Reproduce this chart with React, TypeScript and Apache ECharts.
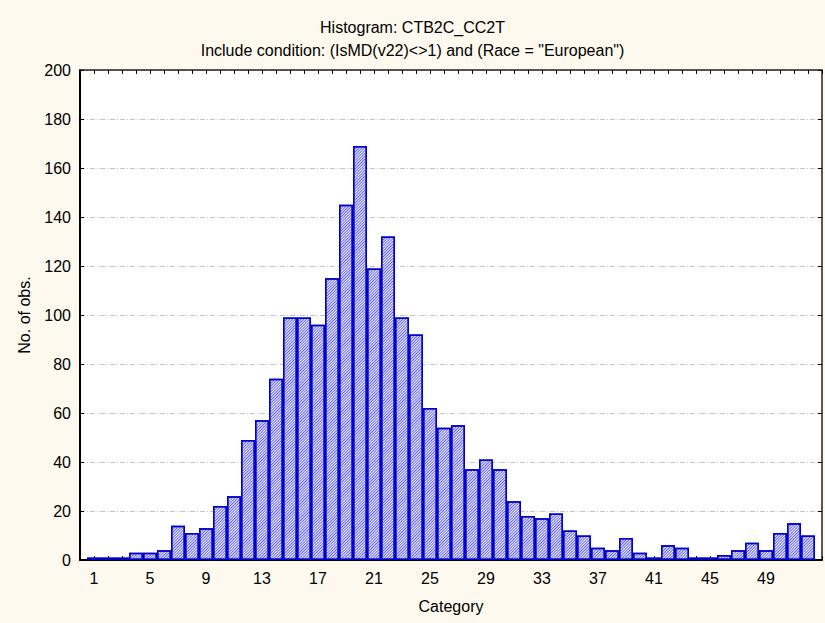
import React, { useEffect, useRef } from "react";
import * as echarts from "echarts";

const categories: number[] = [
  1, 2, 3, 4, 5, 6, 7, 8, 9, 10, 11, 12, 13, 14, 15, 16, 17, 18, 19, 20, 21, 22, 23, 24, 25, 26,
  27, 28, 29, 30, 31, 32, 33, 34, 35, 36, 37, 38, 39, 40, 41, 42, 43, 44, 45, 46, 47, 48, 49, 50, 51, 52,
];
const counts: number[] = [
  1, 1, 1, 3, 3, 4, 14, 11, 13, 22, 26, 49, 57, 74, 99, 99, 96, 115, 145, 169, 119, 132, 99, 92, 62, 54,
  55, 37, 41, 37, 24, 18, 17, 19, 12, 10, 5, 4, 9, 3, 1, 6, 5, 1, 1, 2, 4, 7, 4, 11, 15, 10,
];
const xLabelValues: number[] = [1, 5, 9, 13, 17, 21, 25, 29, 33, 37, 41, 45, 49];
const titleText = "Histogram: CTB2C_CC2T";
const subtitleText = 'Include condition: (IsMD(v22)<>1) and (Race = "European")';
const xName = "Category";
const yName = "No. of obs.";

const FONT = "'Liberation Sans', Arial, Helvetica, sans-serif";

export default function App() {
  const ref = useRef<HTMLDivElement>(null);
  useEffect(() => {
    if (!ref.current) return;
    const chart = echarts.init(ref.current, null, { renderer: "svg" });
    const data = categories.map((c, i) => [c, counts[i]]);
    chart.setOption({
      animation: false,
      backgroundColor: "#fdf9ee",
      textStyle: { fontFamily: FONT },
      title: {
        text: titleText,
        subtext: subtitleText,
        left: "center",
        top: 14,
        itemGap: 7,
        textStyle: { fontFamily: FONT, fontSize: 16, fontWeight: "normal", color: "#000" },
        subtextStyle: { fontFamily: FONT, fontSize: 16, color: "#000" },
      },
      grid: {
        left: 80,
        right: 3,
        top: 70,
        bottom: 63,
        show: true,
        backgroundColor: "#ffffff",
        borderWidth: 0,
      },
      xAxis: [
        {
          type: "value",
          min: 0,
          max: 53,
          interval: 1,
          name: xName,
          nameLocation: "middle",
          nameGap: 38,
          nameTextStyle: { fontFamily: FONT, fontSize: 16, color: "#000" },
          axisLine: { show: true, onZero: false, lineStyle: { color: "#000", width: 2 } },
          axisTick: { show: true, inside: true, length: 4, lineStyle: { color: "#000", width: 1 } },
          axisLabel: {
            fontFamily: FONT,
            fontSize: 16,
            color: "#000",
            margin: 10,
            formatter: (v: number) => (xLabelValues.indexOf(v) >= 0 ? String(v) : ""),
          },
          splitLine: { show: false },
        },
        {
          type: "value",
          position: "top",
          min: 0,
          max: 53,
          interval: 1,
          axisLine: { show: true, onZero: false, lineStyle: { color: "#222", width: 1.5 } },
          axisTick: { show: true, inside: true, length: 4, lineStyle: { color: "#000", width: 1 } },
          axisLabel: { show: false },
          splitLine: { show: false },
        },
      ],
      yAxis: [
        {
          type: "value",
          min: 0,
          max: 200,
          interval: 20,
          name: yName,
          nameLocation: "middle",
          nameGap: 48,
          nameRotate: 90,
          nameTextStyle: { fontFamily: FONT, fontSize: 16, color: "#000" },
          axisLine: { show: true, onZero: false, lineStyle: { color: "#000", width: 2 } },
          axisTick: { show: true, inside: true, length: 4, lineStyle: { color: "#000", width: 1 } },
          axisLabel: { fontFamily: FONT, fontSize: 16, color: "#000", margin: 9 },
          splitLine: {
            show: true,
            lineStyle: { color: "#c4c4c4", width: 1, type: [5, 2, 1, 2] },
          },
        },
        {
          type: "value",
          position: "right",
          min: 0,
          max: 200,
          interval: 20,
          axisLine: { show: true, onZero: false, lineStyle: { color: "#222", width: 1.5 } },
          axisTick: { show: true, inside: true, length: 4, lineStyle: { color: "#000", width: 1 } },
          axisLabel: { show: false },
          splitLine: { show: false },
        },
      ],
      series: [
        {
          type: "bar",
          xAxisIndex: 0,
          yAxisIndex: 0,
          data,
          barWidth: "100%",
          itemStyle: {
            color: "#ffffff",
            borderColor: "#0000c8",
            borderWidth: 1.5,
            decal: {
              symbol: "rect",
              symbolSize: 1,
              color: "#5858ff",
              backgroundColor: "#ffffff",
              rotation: -Math.PI / 4,
              dashArrayX: [1, 0],
              dashArrayY: [1, 1],
            },
          },
        },
      ],
    });
    return () => chart.dispose();
  }, []);
  return (
    <div
      ref={ref}
      style={{ position: "absolute", left: 0, top: 0, width: 825, height: 623 }}
    />
  );
}
